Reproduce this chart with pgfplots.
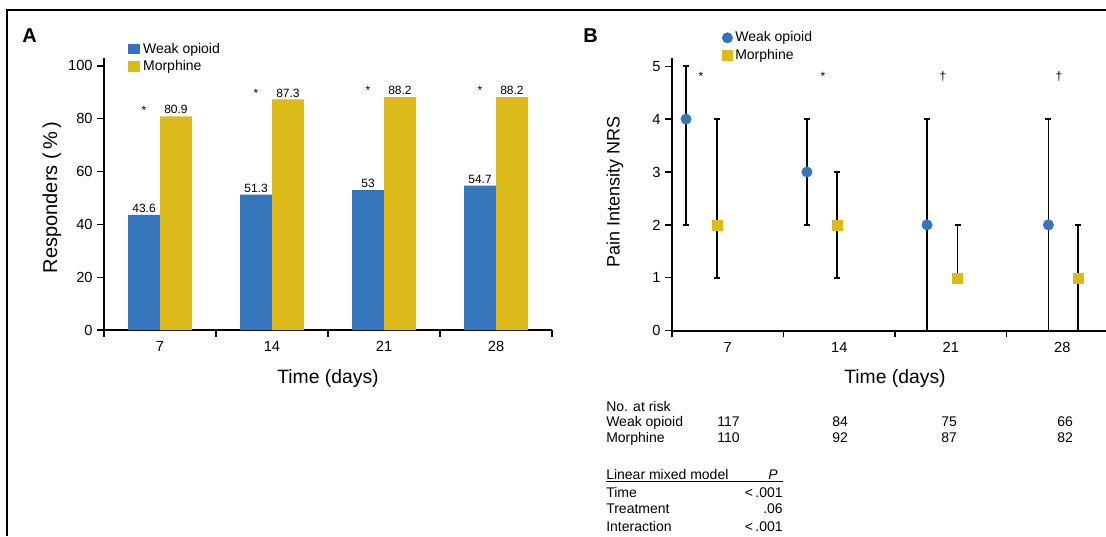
\documentclass[border=0pt]{standalone}
\usepackage{pgfplots}
\pgfplotsset{compat=1.18}
\usepackage{fontspec}
\setmainfont{Liberation Sans}
\definecolor{wblue}{RGB}{52,117,188}
\definecolor{myel}{RGB}{220,186,26}
\newcommand{\fs}[1]{\fontsize{#1}{#1}\selectfont}
\pgfplotsset{
  common/.style={
    scale only axis,
    axis x line*=bottom, axis y line*=left,
    axis line style={-, line width=1.3pt, black},
    tick style={black, line width=1pt},
    tick align=outside,
    major tick length=5pt,
    minor tick length=5pt,
    major x tick style={draw=none},
    minor x tick style={black, line width=1pt},
    /pgf/number format/assume math mode=true,
    tick label style={font=\fs{11}},
    label style={font=\fs{14.5}},
    clip=false,
    anchor=south west,
  }
}
\begin{document}
\begin{tikzpicture}
\useasboundingbox (0,0) rectangle (829.5pt,-402pt);
% frame
\draw[line width=1.5pt] (5.25pt,-402pt) -- (5.25pt,-7.5pt) -- (829.5pt,-7.5pt);
\node[anchor=base west, font=\bfseries\fs{15}, inner sep=0] at (16.5pt,-31.5pt) {A};
\node[anchor=base west, font=\bfseries\fs{15}, inner sep=0] at (437.25pt,-31.5pt) {B};

% Panel A
\begin{axis}[common,
  at={(78pt,-247.5pt)},
  width=336pt, height=204pt,
  xmin=-0.5, xmax=3.5,
  ymin=0, ymax=103,
  xtick={0,1,2,3}, xticklabels={7,14,21,28},
  minor xtick={-0.5,0.5,1.5,2.5,3.5},
  ytick={0,20,40,60,80,100},
  xlabel={Time (days)},
  ylabel={Responders (\,\%\,)},
  xlabel style={at={(axis description cs:0.5,-0.18)}, anchor=center},
  ylabel style={at={(axis description cs:-0.116,0.487)}, anchor=center, rotate=0, font=\fs{15}},
  legend style={at={(axis description cs:0.054,1.066)}, anchor=north west, draw=none, fill=none,
    font=\fs{10.5}, inner sep=0pt, row sep=0pt, legend cell align=left},
  legend image code/.code={\fill[#1] (0pt,-4pt) rectangle (9pt,4pt);},
]
\addplot[ybar, fill=wblue, draw=none, bar width=0.285, bar shift=-0.1425,
  nodes near coords,
  every node near coord/.append style={font=\fs{9}, black, anchor=south, inner sep=1.5pt, xshift=-11.97pt}]
  coordinates {(0,43.6) (1,51.3) (2,53) (3,54.7)};
\addlegendentry{Weak opioid}
\addplot[ybar, fill=myel, draw=none, bar width=0.285, bar shift=0.1425,
  nodes near coords,
  every node near coord/.append style={font=\fs{9}, black, anchor=south, inner sep=1.5pt, xshift=11.97pt}]
  coordinates {(0,80.9) (1,87.3) (2,88.2) (3,88.2)};
\addlegendentry{Morphine}
\node[font=\fs{9}, anchor=south, inner sep=1.5pt] at (axis cs:-0.1425,80.9) {*};
\node[font=\fs{9}, anchor=south, inner sep=1.5pt] at (axis cs:0.8575,87.3) {*};
\node[font=\fs{9}, anchor=south, inner sep=1.5pt] at (axis cs:1.8575,88.2) {*};
\node[font=\fs{9}, anchor=south, inner sep=1.5pt] at (axis cs:2.8575,88.2) {*};
\end{axis}

% Panel B
\begin{axis}[common,
  at={(504pt,-248pt)},
  width=334.5pt, height=204.3pt,
  xmin=3.5, xmax=31.5,
  ymin=0, ymax=5.15,
  xtick={7,14,21,28},
  minor xtick={3.5,10.5,17.5,24.5,31.5},
  ytick={0,1,2,3,4,5},
  xlabel={Time (days)},
  ylabel={Pain Intensity NRS},
  xlabel style={at={(axis description cs:0.5,-0.177)}, anchor=center},
  ylabel style={at={(axis description cs:-0.128,0.509)}, anchor=center, rotate=0, font=\fs{13.5}},
  legend style={at={(axis description cs:0.112,1.108)}, anchor=north west, draw=none, fill=none,
    font=\fs{10.5}, inner sep=0pt, row sep=0pt, legend cell align=left},
]
\addplot[only marks, mark=*, mark size=3.9pt, color=wblue,
  error bars/.cd, y dir=both, y explicit,
  error bar style={black, line width=1.1pt},
  error mark options={black, rotate=90, mark size=2.3pt, line width=1.1pt}]
  table[x=x, y=y, y error plus=ep, y error minus=em] {
x y ep em
4.38 4 1 2
11.97 3 1 1
19.51 2 2 2
27.13 2 2 2
};
\addlegendentry{Weak opioid}
\addplot[only marks, mark=square*, mark size=3.75pt, color=myel,
  error bars/.cd, y dir=both, y explicit,
  error bar style={black, line width=1.1pt},
  error mark options={black, rotate=90, mark size=2.3pt, line width=1.1pt}]
  table[x=x, y=y, y error plus=ep, y error minus=em] {
x y ep em
6.31 2 2 1
13.86 2 1 1
21.43 1 1 0
28.99 1 1 1
};
\addlegendentry{Morphine}
\node[font=\fs{9}] at (axis cs:5.32,4.81) {*};
\node[font=\fs{9}] at (axis cs:12.98,4.81) {*};
\node[font=\fs{9}] at (axis cs:20.51,4.81) {†};
\node[font=\fs{9}] at (axis cs:27.79,4.81) {†};
\end{axis}

% No. at risk table and model table
\begin{scope}[every node/.style={font=\fs{10.5}, inner sep=0pt}]
\node[anchor=base west] at (454.5pt,-308.25pt) {No. at risk};
\node[anchor=base west] at (454.5pt,-320pt) {Weak opioid};
\node[anchor=base west] at (454.5pt,-331.7pt) {Morphine};
\node[anchor=base west] at (537.75pt,-320pt) {117};
\node[anchor=base west] at (537.75pt,-331.7pt) {110};
\node[anchor=base west] at (624pt,-320pt) {84};
\node[anchor=base west] at (624pt,-331.7pt) {92};
\node[anchor=base west] at (705.75pt,-320pt) {75};
\node[anchor=base west] at (705.75pt,-331.7pt) {87};
\node[anchor=base west] at (792.75pt,-320pt) {66};
\node[anchor=base west] at (792.75pt,-331.7pt) {82};
\node[anchor=base west] at (454.5pt,-359.5pt) {Linear mixed model};
\node[anchor=base east] at (583.5pt,-359.5pt) {\itshape P};
\draw[line width=0.6pt] (454.5pt,-361.3pt) -- (587.25pt,-361.3pt);
\node[anchor=base west] at (454.5pt,-372.75pt) {Time};
\node[anchor=base west] at (454.5pt,-384.75pt) {Treatment};
\node[anchor=base west] at (454.5pt,-398.8pt) {Interaction};
\node[anchor=base east] at (587.25pt,-372.75pt) {<\,.001};
\node[anchor=base east] at (587.25pt,-384.75pt) {.06};
\node[anchor=base east] at (587.25pt,-398.8pt) {<\,.001};
\end{scope}
\end{tikzpicture}
\end{document}
